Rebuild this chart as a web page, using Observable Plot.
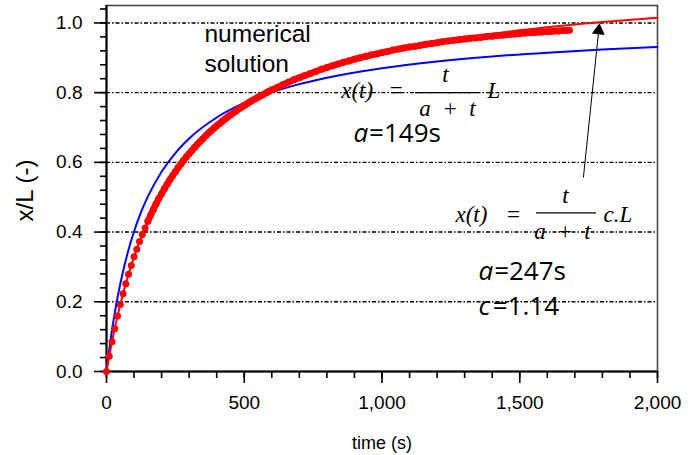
<!DOCTYPE html>
<html><head><meta charset="utf-8">
<script src="https://cdn.jsdelivr.net/npm/d3@7"></script>
<script src="https://cdn.jsdelivr.net/npm/@observablehq/plot@0.6"></script>
<style>body{margin:0;background:#fff;} svg{display:block}</style>
</head><body><div id="chart"></div>
<script>
// numerical solution (red markers), time in s, x/L
const numTime = [0,10,20,30,40,50,60,70,80,90,100,110,120,130,140,150,160,170,180,190,200,210,220,230,240,250,260,270,280,290,300,310,320,330,340,350,360,370,380,390,400,410,420,430,440,450,460,470,480,490,500,510,520,530,540,550,560,570,580,590,600,620,640,660,680,700,720,740,760,780,800,820,840,860,880,900,920,940,960,980,1000,1020,1040,1060,1080,1100,1120,1140,1160,1180,1200,1220,1240,1260,1280,1300,1320,1340,1360,1380,1400,1420,1440,1460,1480,1500,1520,1540,1560,1580,1600,1620,1640,1660,1680];
const numValue = [0,0.044,0.085,0.123,0.159,0.192,0.223,0.252,0.279,0.304,0.329,0.351,0.373,0.393,0.412,0.431,0.448,0.465,0.481,0.496,0.510,0.524,0.537,0.550,0.562,0.573,0.585,0.595,0.606,0.616,0.625,0.634,0.643,0.652,0.660,0.668,0.676,0.684,0.691,0.698,0.705,0.711,0.718,0.724,0.730,0.736,0.742,0.747,0.753,0.758,0.763,0.768,0.773,0.778,0.782,0.787,0.791,0.795,0.800,0.804,0.808,0.815,0.823,0.830,0.837,0.843,0.849,0.855,0.861,0.867,0.872,0.877,0.882,0.887,0.891,0.896,0.900,0.904,0.908,0.911,0.915,0.918,0.922,0.925,0.928,0.931,0.933,0.936,0.939,0.941,0.943,0.946,0.948,0.950,0.952,0.954,0.956,0.957,0.959,0.961,0.962,0.964,0.965,0.967,0.968,0.969,0.971,0.972,0.973,0.974,0.975,0.976,0.977,0.978,0.979];
// fitted curves
const fitTime = [0,5,10,20,30,40,50,60,80,100,125,150,200,250,300,400,500,600,700,800,1000,1200,1400,1600,1800,2000];
const fitA149 = [0,0.0325,0.0629,0.1183,0.1676,0.2116,0.2513,0.2871,0.3493,0.4016,0.4562,0.5017,0.5731,0.6266,0.6682,0.7286,0.7704,0.8011,0.8245,0.8430,0.8703,0.8895,0.9038,0.9148,0.9236,0.9307];
const fitA247 = [0,0.0226,0.0444,0.0854,0.1235,0.1589,0.1919,0.2228,0.2789,0.3285,0.3831,0.4307,0.5101,0.5734,0.6252,0.7048,0.7631,0.8076,0.8427,0.8711,0.9142,0.9454,0.9690,0.9875,1.0024,1.0147];
// ticks
const xMajorTicks = [0,500,1000,1500,2000];
const xMinorTicks = [0,100,200,300,400,500,600,700,800,900,1000,1100,1200,1300,1400,1500,1600,1700,1800,1900,2000];
const yMajorTicks = [0,0.2,0.4,0.6,0.8,1.0];
const yMinorTicks = [0,0.04,0.08,0.12,0.16,0.2,0.24,0.28,0.32,0.36,0.4,0.44,0.48,0.52,0.56,0.6,0.64,0.68,0.72,0.76,0.8,0.84,0.88,0.92,0.96,1,1.04];
const gridValues = [0.2,0.4,0.6,0.8,1.0];

const numTable = numTime.map((t, i) => ({t, v: numValue[i]}));
const fitTable = fitTime.map((t, i) => ({t, a149: fitA149[i], a247: fitA247[i]}));

const sans = "'Liberation Sans', Arial, sans-serif";
const serif = "'Liberation Serif', 'Times New Roman', serif";
const calib = "'Open Sans', sans-serif";

function note(text, x, y, style) {
  return Plot.text([{x, y, text}], {x: "x", y: "y", text: "text", lineAnchor: "bottom", fill: "black", ...style});
}
const eq = (text, x, y, anchor, italic) => note(text, x, y, {textAnchor: anchor, fontFamily: serif, fontSize: 23, fontStyle: italic ? "italic" : "normal"});
const par = (text, x, y, italic) => note(text, x, y, {textAnchor: "start", fontFamily: calib, fontSize: 26, fontStyle: italic ? "italic" : "normal"});

const chart = Plot.plot({
  width: 699, height: 455,
  marginLeft: 106, marginRight: 42, marginTop: 5, marginBottom: 84,
  x: {domain: [0, 2000], label: null},
  y: {domain: [0, 1.05], label: null},
  style: {fontFamily: sans, background: "white", color: "black"},
  marks: [
    Plot.ruleY(gridValues, {stroke: "black", strokeWidth: 1.4, strokeDasharray: "4,2,1.5,2"}),
    Plot.frame({stroke: "#444", strokeWidth: 1.6}),
    Plot.axisX({ticks: xMinorTicks, tickSize: 7, tickFormat: () => "", label: null, strokeWidth: 1.6}),
    Plot.axisX({ticks: xMajorTicks, tickSize: 12, tickPadding: 12, tickFormat: d3.format(","), fontSize: 19, label: null, strokeWidth: 1.6}),
    Plot.axisY({ticks: yMinorTicks, tickSize: 6, tickFormat: () => "", label: null, strokeWidth: 1.6}),
    Plot.axisY({ticks: yMajorTicks, tickSize: 12, tickPadding: 12, tickFormat: d3.format(".1f"), fontSize: 19, label: null, strokeWidth: 1.6}),
    Plot.ruleX([0], {stroke: "black", strokeWidth: 2}),
    Plot.ruleY([0], {stroke: "black", strokeWidth: 2}),
    Plot.line(fitTable, {x: "t", y: "a149", stroke: "#0000ff", strokeWidth: 2, curve: "monotone-x"}),
    Plot.line(fitTable, {x: "t", y: "a247", stroke: "#ff0000", strokeWidth: 2, curve: "monotone-x"}),
    Plot.line(numTable, {filter: (d) => d.t >= 150, x: "t", y: "v", stroke: "#ff0000", strokeWidth: 6.5, strokeLinecap: "round", curve: "monotone-x"}),
    Plot.dot(numTable, {x: "t", y: "v", r: 3.5, fill: "#ff0000", stroke: "none"}),
    // axis titles
    Plot.text(["time (s)"], {frameAnchor: "bottom", dy: 72, fontSize: 18, fontFamily: sans, fill: "black", lineAnchor: "middle"}),
    Plot.text(["x/L (-)"], {frameAnchor: "left", dx: -81, dy: 2, rotate: -90, fontSize: 24, fontFamily: sans, fill: "black", textAnchor: "middle", lineAnchor: "middle"}),
    // annotations
    note("numerical", 355.7, 0.9447, {textAnchor: "start", fontFamily: sans, fontSize: 24.5}),
    note("solution", 355.7, 0.8587, {textAnchor: "start", fontFamily: sans, fontSize: 24.5}),
    eq("x(t)", 851.9, 0.7832, "start", true),
    eq("=", 1052, 0.7832, "middle", false),
    eq("t", 1230.5, 0.8291, "middle", true),
    Plot.ruleY([{y: 0.8, x1: 1121.6, x2: 1350.3}], {y: "y", x1: "x1", x2: "x2", stroke: "black", strokeWidth: 1.2}),
    eq("a\u00a0\u00a0+\u00a0\u00a0t", 1237.7, 0.7344, "middle", true),
    eq("L", 1406.5, 0.7832, "middle", true),
    par("a", 896.6, 0.6578, true),
    par("=149s", 953.0, 0.6578, false),
    eq("x(t)", 1266.8, 0.4283, "start", true),
    eq("=", 1477.3, 0.4283, "middle", false),
    eq("t", 1666.1, 0.482, "middle", true),
    Plot.ruleY([{y: 0.4553, x1: 1560.8, x2: 1778.6}], {y: "y", x1: "x1", x2: "x2", stroke: "black", strokeWidth: 1.2}),
    eq("a\u00a0\u00a0+\u00a0\u00a0t", 1655.2, 0.3807, "middle", true),
    eq("c.L", 1804, 0.4283, "start", true),
    par("a", 1350.3, 0.2639, true),
    par("=247s", 1407.0, 0.2639, false),
    par("c", 1350.3, 0.1607, true),
    par("=1.14", 1402.0, 0.1607, false),
    // arrow
    Plot.link([{x1: 1731, y1: 0.5566, x2: 1786.6, y2: 0.978}], {x1: "x1", y1: "y1", x2: "x2", y2: "y2", stroke: "black", strokeWidth: 1}),
    Plot.dot([{x: 1786.6, y: 0.9783}], {x: "x", y: "y", symbol: "triangle", r: 4.8, rotate: 6, fill: "black", stroke: "none"})
  ]
});
document.getElementById("chart").appendChild(chart);
</script>
</body></html>
